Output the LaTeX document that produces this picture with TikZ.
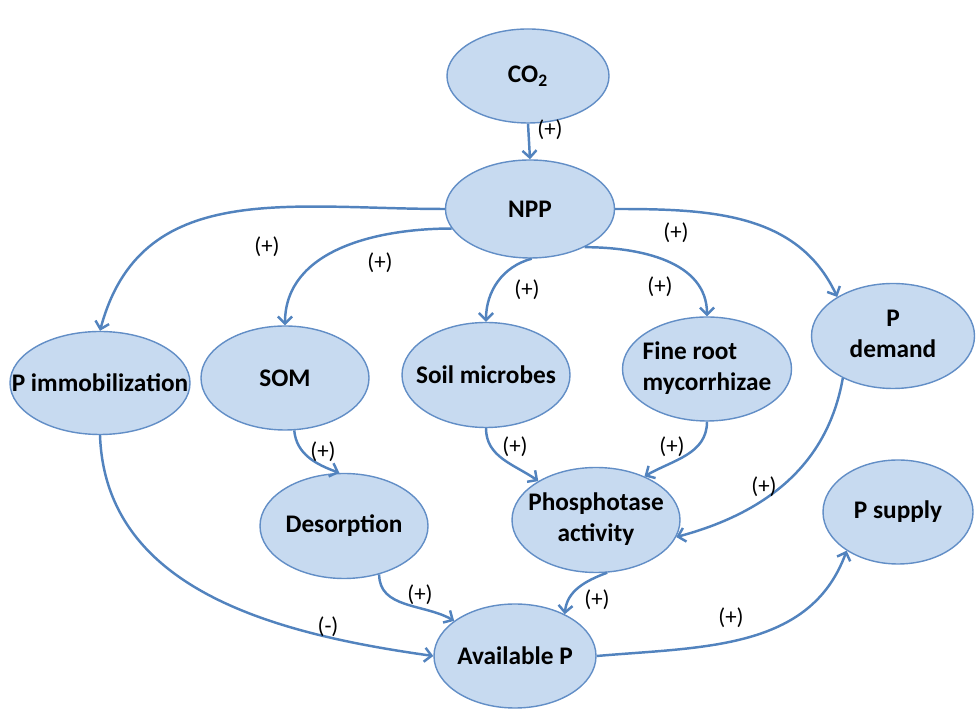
\documentclass[tikz,border=0pt]{standalone}
\usepackage{fontspec}
\setmainfont{Carlito}
\usetikzlibrary{shapes.geometric,arrows.meta}
\definecolor{blobfill}{RGB}{199,218,240}
\definecolor{blobline}{RGB}{98,142,198}
\definecolor{linkblue}{RGB}{82,131,190}
\newcommand{\blobtext}[1]{\makebox[0pt]{#1}}
\tikzset{
  blob/.style={ellipse,draw=blobline,fill=blobfill,line width=0.8pt,inner sep=0pt,
    font=\fontsize{14.4}{17.5}\selectfont\bfseries},
  link/.style={draw=linkblue,line width=1.4pt,-{Straight Barb[length=4pt,width=8pt]}},
  sign/.style={font=\fontsize{13}{15}\selectfont}
}
\begin{document}
\begin{tikzpicture}
\useasboundingbox (0,0) rectangle (19.52,14.18);
% ellipses
\node[blob,minimum width=3.24cm,minimum height=1.88cm] (co2) at (10.56,12.66) {\blobtext{CO\textsubscript{2}}};
\node[blob,minimum width=3.38cm,minimum height=1.96cm] (npp) at (10.6,10.0) {\blobtext{NPP}};
\node[blob,minimum width=3.6cm,minimum height=2.06cm] (pimm) at (2.0,6.52) {\blobtext{P immobilization}};
\node[blob,minimum width=3.36cm,minimum height=2.08cm] (som) at (5.7,6.62) {\blobtext{SOM}};
\node[blob,minimum width=3.36cm,minimum height=2.1cm] (microbes) at (9.72,6.68) {\blobtext{Soil microbes}};
\node[blob,minimum width=3.38cm,minimum height=2.08cm] (fineroot) at (14.14,6.8)
  {\blobtext{\begin{tabular}{@{}l@{}}Fine root\\mycorrhizae\end{tabular}}};
\node[blob,minimum width=3.26cm,minimum height=2.1cm] (pdemand) at (17.86,7.46)
  {\blobtext{\begin{tabular}{@{}c@{}}P\\demand\end{tabular}}};
\node[blob,minimum width=3.36cm,minimum height=2.1cm] (desorp) at (6.88,3.66) {\blobtext{Desorption}};
\node[blob,minimum width=3.36cm,minimum height=2.1cm] (phos) at (11.92,3.78)
  {\blobtext{\begin{tabular}{@{}c@{}}Phosphotase\\activity\end{tabular}}};
\node[blob,minimum width=3.0cm,minimum height=2.08cm] (psupply) at (17.96,3.94) {\blobtext{P supply}};
\node[blob,minimum width=3.24cm,minimum height=2.08cm] (availp) at (10.3,1.06) {\blobtext{Available P}};
%
% links
\draw[link] (co2.south) -- (npp.north);
\draw[link] (npp.west) to[out=180,in=75,looseness=1.1] (pimm.north);
\draw[link] (npp.194) to[out=180,in=90] (som.north);
\draw[link] (npp.272) to[out=195,in=90] (microbes.north);
\draw[link] (npp.-35) to[out=0,in=90] (fineroot.north);
\draw[link] (npp.east) to[out=0,in=115] (pdemand.145);
\draw[link] (som.-80) to[out=-85,in=160] (desorp.95);
\draw[link] (microbes.south) to[out=-90,in=145] (phos.146);
\draw[link] (fineroot.south) to[out=-90,in=30] (phos.42);
\draw[link] (pdemand.220) to[out=-100,in=15] (phos.-12);
\draw[link] (desorp.-54) to[out=-90,in=150] (availp.150);
\draw[link] (phos.-78) to[out=200,in=85] (availp.40);
\draw[link] (pimm.south) to[out=-88,in=172] (availp.west);
\draw[link] (availp.east) to[out=5,in=-110] (psupply.217);
%
% signs
\node[sign] (s1) at (11.0,11.58) {(+)};
\node[sign] (s2) at (5.34,9.24) {(+)};
\node[sign] (s3) at (7.6,8.92) {(+)};
\node[sign] (s4) at (10.54,8.38) {(+)};
\node[sign] (s5) at (13.2,8.44) {(+)};
\node[sign] (s6) at (13.52,9.52) {(+)};
\node[sign] (s7) at (6.46,5.14) {(+)};
\node[sign] (s8) at (10.3,5.24) {(+)};
\node[sign] (s9) at (13.44,5.24) {(+)};
\node[sign] (s10) at (15.28,4.44) {(+)};
\node[sign] (s11) at (8.4,2.28) {(+)};
\node[sign] (s12) at (11.94,2.18) {(+)};
\node[sign] (s13) at (6.56,1.64) {(-)};
\node[sign] (s14) at (14.62,1.82) {(+)};
\end{tikzpicture}
\end{document}
